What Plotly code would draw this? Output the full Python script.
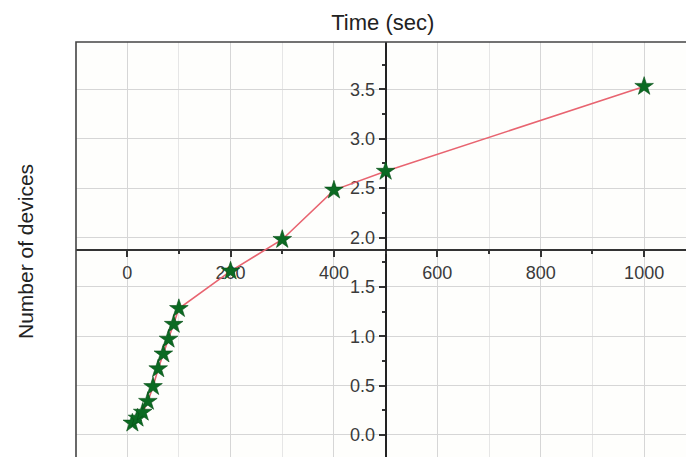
import plotly.graph_objects as go

# Data
time_sec = [10, 20, 30, 40, 50, 60, 70, 80, 90, 100, 200, 300, 400, 500, 1000]
num_devices = [0.12, 0.17, 0.23, 0.34, 0.49, 0.67, 0.82, 0.97, 1.12, 1.28, 1.66, 1.98, 2.48, 2.67, 3.53]

x_title = "Time (sec)"
y_title = "Number of devices"

x_range = [-99, 1081]
y_range = [-0.223, 3.98]
x_cross = 1.87   # y value where x axis is drawn
y_cross = 500    # x value where y axis is drawn

x_pos = (x_cross - y_range[0]) / (y_range[1] - y_range[0])
y_pos = (y_cross - x_range[0]) / (x_range[1] - x_range[0])

fig = go.Figure()
fig.add_trace(go.Scatter(
    x=time_sec, y=num_devices, mode="lines+markers",
    line=dict(color="#e86470", width=1.6),
    marker=dict(symbol="star", size=14, color="#0b6a22",
                line=dict(color="#064d15", width=0.6)),
    showlegend=False,
))

tick_font = dict(family="Liberation Sans, Arial, sans-serif", size=18, color="#3a3a3a")

fig.update_layout(
    width=686, height=457,
    margin=dict(l=76, r=0, t=42, b=0),
    paper_bgcolor="white",
    plot_bgcolor="#fefefc",
    title=dict(text=x_title, x=0.558, xref="container", xanchor="center",
               y=1 - 22/457, yref="container", yanchor="middle",
               font=dict(family="Liberation Sans, Arial, sans-serif", size=22, color="#222222")),
    xaxis=dict(
        range=x_range, anchor="free", position=x_pos,
        showline=True, linecolor="#333333", linewidth=1.6,
        ticks="outside", ticklen=6, tickwidth=1.5, tickcolor="#333333",
        tick0=0, dtick=200, tickfont=tick_font,
        showgrid=True, gridcolor="#d6d6d6", gridwidth=1,
        zeroline=False, layer="below traces",
        minor=dict(dtick=100, tick0=0, ticks="outside", ticklen=3, tickcolor="#333333",
                   showgrid=True, gridcolor="#e6e6e6", gridwidth=1),
    ),
    yaxis=dict(
        range=y_range, anchor="free", position=y_pos,
        showline=True, linecolor="#222222", linewidth=1.8,
        ticks="outside", ticklen=6, tickwidth=1.5, tickcolor="#333333",
        tick0=0, dtick=0.5, tickformat=".1f", tickfont=tick_font,
        showgrid=True, gridcolor="#d6d6d6", gridwidth=1,
        zeroline=False, layer="below traces",
        minor=dict(dtick=0.25, tick0=0, ticks="outside", ticklen=3, tickcolor="#333333",
                   showgrid=False),
    ),
    annotations=[dict(
        text=y_title, xref="paper", yref="paper",
        x=(25 - 76) / 610, y=(457 - 252) / 415,
        xanchor="center", yanchor="middle", textangle=-90, showarrow=False,
        font=dict(family="Liberation Sans, Arial, sans-serif", size=21, color="#222222"),
    )],
    shapes=[dict(type="rect", xref="paper", yref="paper",
                 x0=0, x1=1.2, y0=-0.2, y1=1,
                 line=dict(color="#444444", width=1.6), layer="above")],
)

fig.write_html("out.html")
